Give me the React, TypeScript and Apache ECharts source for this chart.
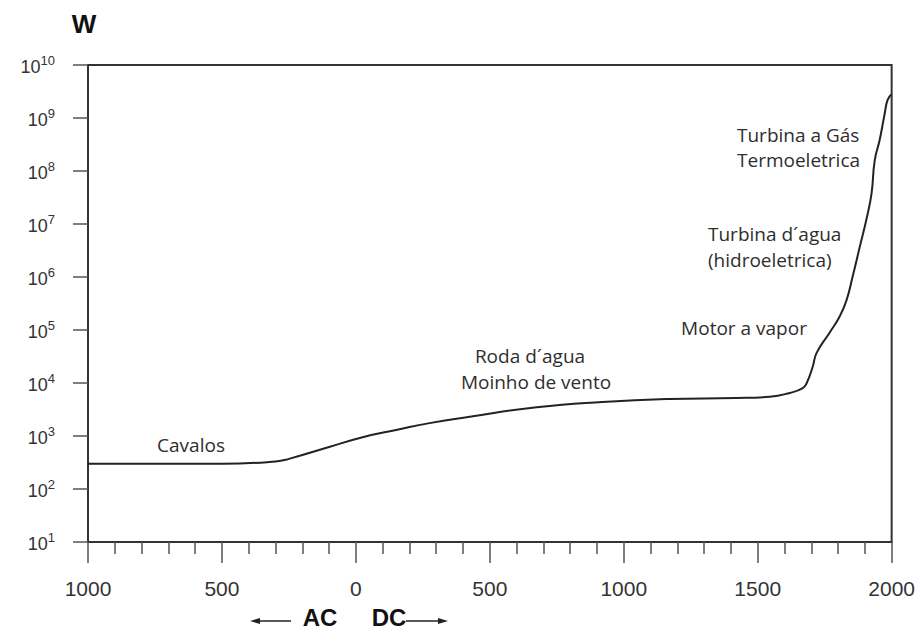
import React, { useEffect, useRef } from "react";
import * as echarts from "echarts";

// Year (negative = BC / "AC"), power in watts
const years = [-1000, -500, -300, -250, -100, 25, 150, 275, 425, 675, 920, 1170, 1420, 1545, 1620, 1668, 1683, 1705, 1720, 1769, 1806, 1832, 1854, 1881, 1907, 1925, 1937, 1955, 1974, 1985, 2000];
const watts = [300, 300, 330, 370, 620, 950, 1300, 1750, 2300, 3500, 4400, 5000, 5200, 5500, 6500, 8000, 10000, 20000, 37000, 90000, 180000, 370000, 1000000, 3700000, 13000000, 38000000, 160000000, 380000000, 1200000000, 2200000000, 2800000000];

const xMin = -1000;
const xMax = 2000;
const xStep = 500;
const yMin = 10;
const yMax = 1e10;

const unitLabel = "W";
const eraLabels = ["AC", "DC"];
const sourceLabels = [
  "Cavalos",
  "Roda d´agua",
  "Moinho de vento",
  "Motor a vapor",
  "Turbina d´agua",
  "(hidroeletrica)",
  "Turbina a Gás",
  "Termoeletrica",
];

export default function App() {
  const ref = useRef<HTMLDivElement>(null);
  useEffect(() => {
    if (!ref.current) return;
    const chart = echarts.init(ref.current, null, { renderer: "svg" });
    const annFont = { fontFamily: "Open Sans", fontSize: 19, fill: "#2e2e2e" };
    const ann = (text: string, x: number, y: number, align: string) => ({
      type: "text",
      x,
      y,
      silent: true,
      style: { text, ...annFont, align, verticalAlign: "middle" },
    });
    const era = (text: string, x: number) => ({
      type: "text",
      x,
      y: 617,
      style: {
        text,
        fontFamily: "Liberation Sans",
        fontWeight: "bold",
        fontSize: 24,
        fill: "#111",
        align: "center",
        verticalAlign: "middle",
      },
    });
    const option: any = {
      animation: false,
      backgroundColor: "#ffffff",
      grid: {
        left: 88,
        top: 65,
        right: 26,
        bottom: 92,
        show: true,
        borderColor: "#333",
        borderWidth: 2,
        backgroundColor: "transparent",
      },
      xAxis: {
        type: "value",
        min: xMin,
        max: xMax,
        interval: xStep,
        axisLine: { show: true, onZero: false, lineStyle: { color: "#333", width: 2 } },
        axisTick: { show: true, inside: false, length: 21, lineStyle: { color: "#555", width: 1.5 } },
        minorTick: { show: true, splitNumber: 5, length: 12, lineStyle: { color: "#555", width: 1.5 } },
        splitLine: { show: false },
        axisLabel: {
          margin: 36,
          fontFamily: "Liberation Sans",
          fontSize: 21,
          color: "#333",
          formatter: (v: number) => String(Math.abs(v)),
        },
      },
      yAxis: {
        type: "log",
        logBase: 10,
        min: yMin,
        max: yMax,
        splitNumber: 9,
        axisLine: { show: true, onZero: false, lineStyle: { color: "#333", width: 2 } },
        axisTick: { show: true, inside: false, length: 15, lineStyle: { color: "#555", width: 1.5 } },
        splitLine: { show: false },
        axisLabel: {
          margin: 33,
          formatter: (v: number) => "{b|10}{s|" + Math.round(Math.log10(v)) + "}",
          rich: {
            b: { fontFamily: "Liberation Sans", fontSize: 18, color: "#333", padding: [4, 0, 0, 0] },
            s: { fontFamily: "Liberation Sans", fontSize: 13, color: "#333", padding: [0, 0, 9, 0] },
          },
        },
      },
      series: [
        {
          type: "line",
          data: years.map((y, i) => [y, watts[i]]),
          smooth: 0.5,
          showSymbol: false,
          lineStyle: { color: "#222", width: 2 },
        },
      ],
      graphic: [
        {
          type: "text",
          x: 84,
          y: 24,
          style: {
            text: unitLabel,
            fontFamily: "Liberation Sans",
            fontWeight: "bold",
            fontSize: 26,
            fill: "#111",
            align: "center",
            verticalAlign: "middle",
          },
        },
        ann(sourceLabels[0], 191, 445, "center"),
        ann(sourceLabels[1], 530, 356, "center"),
        ann(sourceLabels[2], 536, 382, "center"),
        ann(sourceLabels[3], 744, 328, "center"),
        ann(sourceLabels[4], 708, 234, "left"),
        ann(sourceLabels[5], 708, 260, "left"),
        ann(sourceLabels[6], 737, 135, "left"),
        ann(sourceLabels[7], 737, 160, "left"),
        era(eraLabels[0], 320),
        era(eraLabels[1], 389),
        {
          type: "line",
          shape: { x1: 253, y1: 621, x2: 291, y2: 621 },
          style: { stroke: "#222", lineWidth: 1.5 },
        },
        {
          type: "polygon",
          shape: { points: [[250, 621], [260, 618], [260, 624]] },
          style: { fill: "#222" },
        },
        {
          type: "line",
          shape: { x1: 406, y1: 621, x2: 445, y2: 621 },
          style: { stroke: "#222", lineWidth: 1.5 },
        },
        {
          type: "polygon",
          shape: { points: [[448, 621], [438, 618], [438, 624]] },
          style: { fill: "#222" },
        },
      ],
    };
    chart.setOption(option);
    return () => chart.dispose();
  }, []);
  return (
    <div
      ref={ref}
      style={{ position: "absolute", left: 0, top: 0, width: 918, height: 634, background: "#fff" }}
    />
  );
}
